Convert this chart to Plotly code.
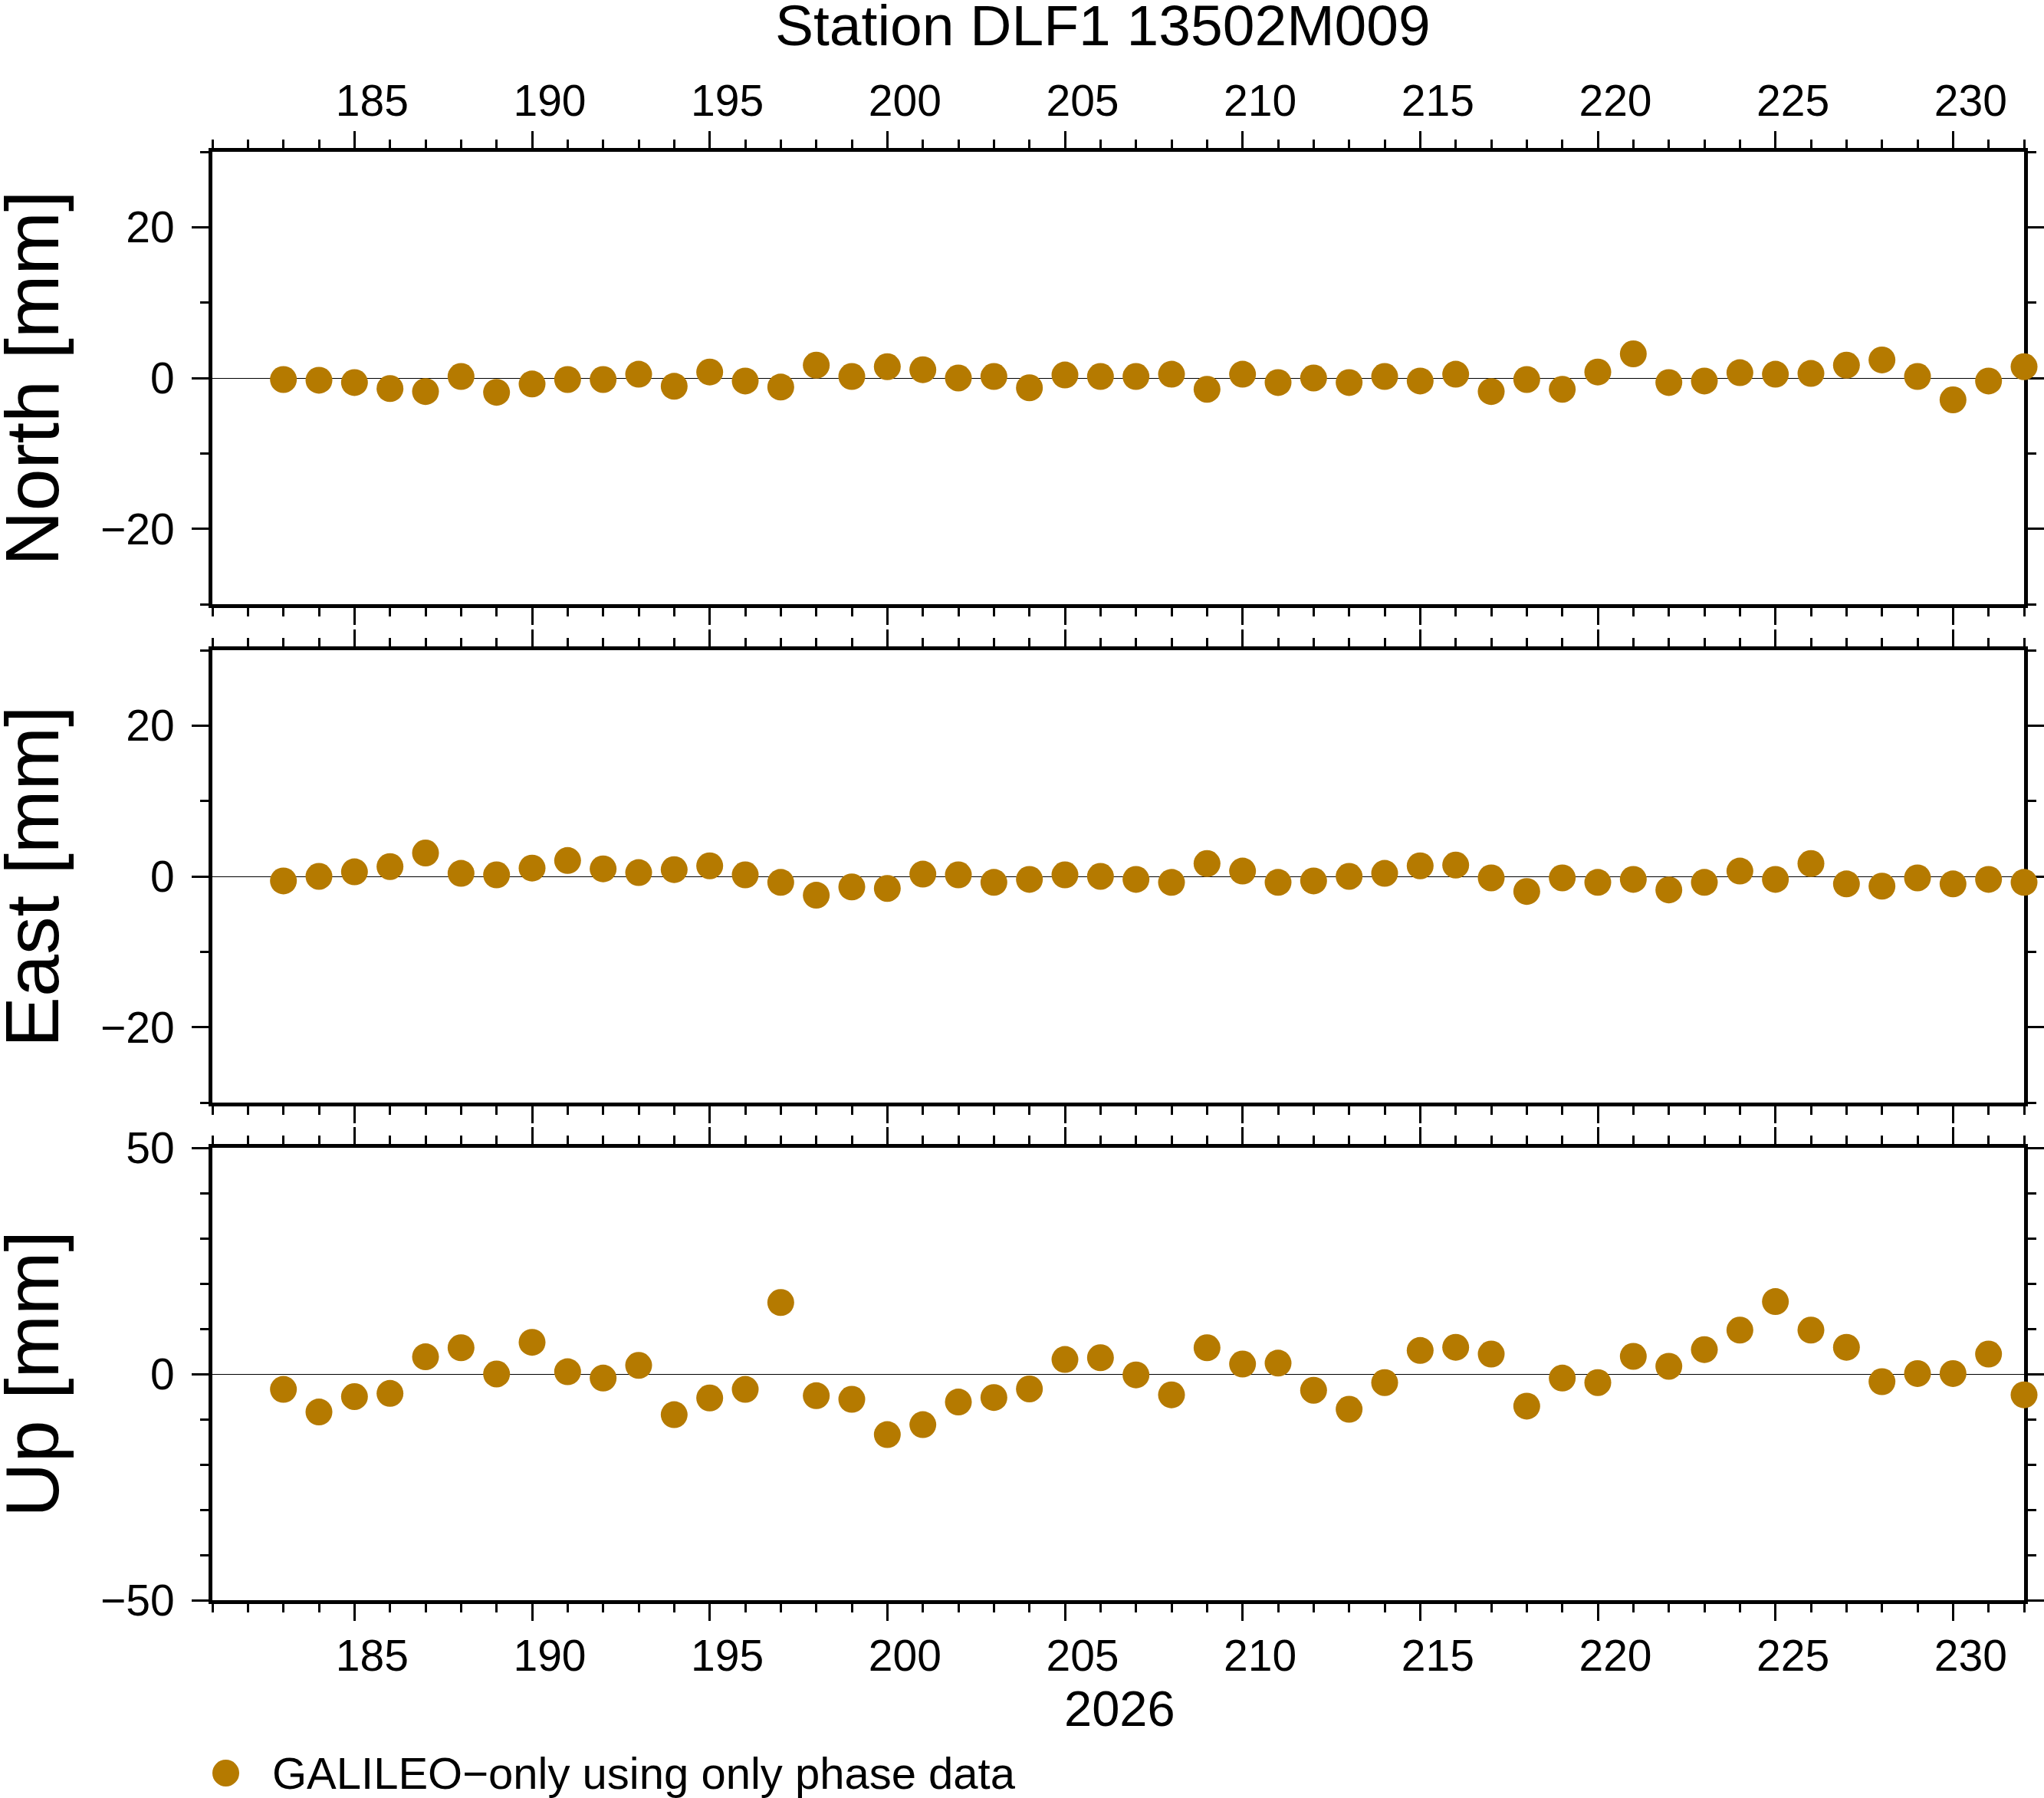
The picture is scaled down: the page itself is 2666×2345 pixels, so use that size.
import plotly.graph_objects as go

# day of year 2026
days = list(range(183, 233))

north = [-0.2, -0.3, -0.6, -1.4, -1.8, 0.2, -1.9, -0.8, -0.2, -0.2,
         0.5, -1.1, 0.8, -0.4, -1.2, 1.7, 0.2, 1.5, 1.1, 0.0,
         0.2, -1.3, 0.4, 0.2, 0.2, 0.5, -1.5, 0.5, -0.6, 0.0,
         -0.6, 0.2, -0.4, 0.5, -1.8, -0.2, -1.5, 0.8, 3.2, -0.6,
         -0.4, 0.7, 0.5, 0.6, 1.7, 2.4, 0.2, -2.9, -0.4, 1.5]

east = [-0.6, 0.0, 0.6, 1.3, 3.1, 0.4, 0.2, 1.1, 2.1, 1.0,
        0.5, 0.9, 1.4, 0.2, -0.8, -2.5, -1.4, -1.6, 0.3, 0.2,
        -0.8, -0.4, 0.2, 0.0, -0.4, -0.8, 1.7, 0.7, -0.8, -0.6,
        0.0, 0.4, 1.4, 1.5, -0.2, -2.0, -0.2, -0.8, -0.4, -1.8,
        -0.8, 0.7, -0.4, 1.7, -1.0, -1.3, -0.2, -1.0, -0.4, -0.8]

up = [-3.4, -8.4, -5.0, -4.3, 3.8, 5.8, 0.0, 7.0, 0.5, -0.9,
      1.9, -9.0, -5.3, -3.4, 15.8, -4.8, -5.6, -13.4, -11.2, -6.2,
      -5.2, -3.3, 3.2, 3.6, -0.2, -4.6, 5.8, 2.2, 2.4, -3.6,
      -7.8, -1.9, 5.2, 5.9, 4.4, -7.1, -0.9, -1.9, 3.9, 1.7,
      5.4, 9.7, 16.0, 9.7, 5.9, -1.7, 0.1, 0.1, 4.4, -4.6]

panel_titles = ["North [mm]", "East [mm]", "Up [mm]"]
y_limits = [30, 30, 50]
y_major = [20, 20, 50]
x_range = [181, 232]

title = "Station DLF1 13502M009"
year_label = "2026"
legend_label = "GALILEO\u2212only using only phase data"

dot_color = "#b57a00"
font_name = "Liberation Sans"

W, H = 2666, 2345
plot_l, plot_r, plot_t, plot_b = 277, 2640, 198, 2087   # page pixels
ml, mr = plot_l, W - plot_r
mt, mb = plot_t, H - plot_b
plot_w = plot_r - plot_l
plot_h = plot_b - plot_t
day_px = plot_w / (x_range[1] - x_range[0])

def py(px):
    # page pixel row -> paper y
    return (plot_b - px) / plot_h

def pxx(px):
    return (px - plot_l) / plot_w

# panel top/bottom rows in page pixels
panels = [(198, 788), (848, 1438), (1497, 2087)]

fig = go.Figure()
series = [north, east, up]
for i, vals in enumerate(series):
    n = "" if i == 0 else str(i + 1)
    fig.add_trace(go.Scatter(
        x=days, y=vals, mode="markers", xaxis="x" + n, yaxis="y" + n,
        marker=dict(color=dot_color, size=35, line=dict(width=0)),
        cliponaxis=False, showlegend=False, hoverinfo="x+y"))

layout = dict(
    width=W, height=H,
    margin=dict(l=ml, r=mr, t=mt, b=mb, autoexpand=False),
    paper_bgcolor="white", plot_bgcolor="white",
    font=dict(family=font_name, size=57, color="black"),
    showlegend=False,
)

for i in range(3):
    n = "" if i == 0 else str(i + 1)
    top, bot = panels[i]
    dom = [py(bot), py(top)]
    lim = y_limits[i]
    layout["yaxis" + n] = dict(
        domain=dom, anchor="x" + n, range=[-lim, lim],
        tick0=0, dtick=y_major[i],
        ticks="outside", ticklen=22, tickwidth=3, tickcolor="black",
        showline=True, linewidth=5, linecolor="black", mirror="allticks",
        showgrid=False, zeroline=True, zerolinecolor="black", zerolinewidth=1,
        minor=dict(dtick=10, ticks="outside", ticklen=11, tickwidth=3,
                   tickcolor="black", showgrid=False),
        tickfont=dict(size=57), ticklabelstandoff=11, automargin=False,
        layer="below traces", fixedrange=True,
    )
    # day labels sit in the middle of their day, as in GMT time axes
    layout["xaxis" + n] = dict(
        domain=[0, 1], anchor="y" + n, range=x_range,
        tick0=185, dtick=5,
        ticks="outside", ticklen=22, tickwidth=3, tickcolor="black",
        showline=True, linewidth=5, linecolor="black", mirror="allticks",
        showgrid=False, zeroline=False,
        minor=dict(dtick=1, ticks="outside", ticklen=11, tickwidth=3,
                   tickcolor="black", showgrid=False),
        tickfont=dict(size=57), ticklabelstandoff=-3,
        ticklabelshift=round(day_px / 2), automargin=False,
        showticklabels=(i != 1), side="top" if i == 0 else "bottom",
        layer="below traces", fixedrange=True,
    )

annotations = [
    dict(text=title, xref="paper", yref="paper", x=pxx(1438), y=py(33),
         xanchor="center", yanchor="middle", showarrow=False,
         font=dict(size=75)),
    dict(text=year_label, xref="paper", yref="paper", x=pxx(1460), y=py(2228),
         xanchor="center", yanchor="middle", showarrow=False,
         font=dict(size=65)),
    dict(text=legend_label, xref="paper", yref="paper", x=pxx(353), y=py(2312),
         xanchor="left", yanchor="middle", showarrow=False,
         font=dict(size=58)),
]
for i, name in enumerate(panel_titles):
    top, bot = panels[i]
    annotations.append(dict(
        text=name, xref="paper", yref="paper", x=pxx(41), y=py((top + bot) / 2),
        xanchor="center", yanchor="middle", textangle=-90, showarrow=False,
        font=dict(size=99)))
layout["annotations"] = annotations

# legend symbol
layout["shapes"] = [dict(
    type="circle", xref="paper", yref="paper",
    xsizemode="pixel", ysizemode="pixel",
    xanchor=pxx(294.5), yanchor=py(2312.5),
    x0=-17.5, x1=17.5, y0=-17.5, y1=17.5,
    fillcolor=dot_color, line=dict(width=0))]

fig.update_layout(**layout)
# drop the browser's default body margin so the figure fills the page
fig.write_html("out.html",
               config={"displayModeBar": False},
               post_script="document.body.style.margin='0';"
                           "document.documentElement.style.overflow='hidden';")
